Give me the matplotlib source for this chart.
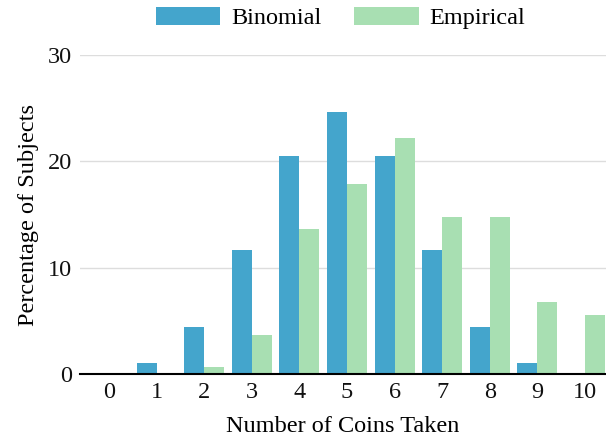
import numpy as np
import matplotlib.pyplot as plt

plt.rcParams['font.family'] = ['Liberation Serif', 'DejaVu Serif']

coins = [0, 1, 2, 3, 4, 5, 6, 7, 8, 9, 10]
binomial = [0.1, 1.0, 4.4, 11.7, 20.5, 24.6, 20.5, 11.7, 4.4, 1.0, 0.1]
empirical = [0.0, 0.0, 0.7, 3.7, 13.6, 17.9, 22.2, 14.8, 14.8, 6.8, 5.6]

blue = '#44a5cc'
green = '#a8dfb2'

fig = plt.figure(figsize=(6.06, 4.37), dpi=100)
ax = fig.add_axes([0.132, 0.144, 0.868, 0.73])

x = np.arange(len(coins))
w = 0.42
ax.bar(x - w / 2, binomial, width=w, color=blue, label='Binomial', zorder=2)
ax.bar(x + w / 2, empirical, width=w, color=green, label='Empirical', zorder=2)

ax.set_xlim(-0.61, 10.44)
ax.set_ylim(0, 30)
ax.set_xticks(x)
ax.set_xticklabels([str(c) for c in coins])
ax.set_yticks([0, 10, 20, 30])
ax.tick_params(axis='both', length=0, labelsize=17.5, colors='#111111')
ax.tick_params(axis='x', pad=6)
ax.tick_params(axis='y', pad=6)
ax.grid(axis='y', color='#dddddd', linewidth=1, zorder=0)

for s in ['top', 'right', 'left']:
    ax.spines[s].set_visible(False)
ax.spines['bottom'].set_color('black')
ax.spines['bottom'].set_linewidth(1.5)
ax.spines['bottom'].set_zorder(5)

ax.set_xlabel('Number of Coins Taken', fontsize=17.5, labelpad=9)
ax.set_ylabel('Percentage of Subjects', fontsize=17.5, labelpad=6)

fig.legend(loc='upper center', bbox_to_anchor=(0.562, 1.035), ncol=2, frameon=False,
           fontsize=17.5, handlelength=2.65, handleheight=0.8, columnspacing=1.35,
           handletextpad=0.45)

fig.savefig('out.png', dpi=100)
